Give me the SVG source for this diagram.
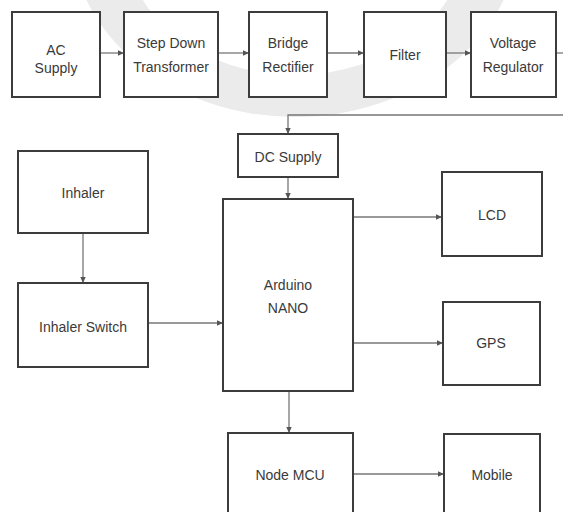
<svg xmlns="http://www.w3.org/2000/svg" width="563" height="512" viewBox="0 0 563 512">
  <defs>
    <marker id="arr" markerUnits="userSpaceOnUse" markerWidth="7" markerHeight="7" refX="6" refY="3.5" orient="auto">
      <path d="M0,0.8 L6,3.5 L0,6.2 Z" fill="#555"/>
    </marker>
    <style>
      .box { fill: #fff; stroke: #3c3c3c; stroke-width: 2; }
      .lbl { font-family: "Liberation Sans", Arial, sans-serif; font-size: 14px; fill: #3a3a3a; text-anchor: middle; }
      .con { fill: none; stroke: #777; stroke-width: 1.3; }
    </style>
  </defs>
  <rect width="563" height="512" fill="#fff"/>
  <path d="M70,-70 a225,187 0 1,0 450,0 a225,187 0 1,0 -450,0 Z M125,-60 a170,135 0 1,0 340,0 a170,135 0 1,0 -340,0 Z" fill="#ebebeb" fill-rule="evenodd"/>

  <g id="connectors">
    <line class="con" x1="100" y1="53" x2="124" y2="53" marker-end="url(#arr)"/>
    <line class="con" x1="218" y1="53" x2="249" y2="53" marker-end="url(#arr)"/>
    <line class="con" x1="327" y1="53" x2="364" y2="53" marker-end="url(#arr)"/>
    <line class="con" x1="446" y1="53" x2="471" y2="53" marker-end="url(#arr)"/>
    <line class="con" x1="556" y1="53" x2="563" y2="53"/>
    <polyline class="con" points="563,115 288,115 288,134" marker-end="url(#arr)"/>
    <line class="con" x1="288" y1="177" x2="288" y2="199" marker-end="url(#arr)"/>
    <line class="con" x1="83" y1="233" x2="83" y2="283" marker-end="url(#arr)"/>
    <line class="con" x1="148" y1="323" x2="223" y2="323" marker-end="url(#arr)"/>
    <line class="con" x1="353" y1="217" x2="442" y2="217" marker-end="url(#arr)"/>
    <line class="con" x1="353" y1="343" x2="443" y2="343" marker-end="url(#arr)"/>
    <line class="con" x1="289" y1="391" x2="289" y2="433" marker-end="url(#arr)"/>
    <line class="con" x1="353" y1="474" x2="444" y2="474" marker-end="url(#arr)"/>
  </g>

  <g id="ac-supply">
    <rect class="box" x="12" y="12" width="88" height="85"/>
    <text class="lbl" x="56" y="55">AC</text>
    <text class="lbl" x="56" y="73">Supply</text>
  </g>
  <g id="step-down">
    <rect class="box" x="124" y="12" width="94" height="85"/>
    <text class="lbl" x="171" y="48">Step Down</text>
    <text class="lbl" x="171" y="72">Transformer</text>
  </g>
  <g id="bridge">
    <rect class="box" x="249" y="12" width="78" height="85"/>
    <text class="lbl" x="288" y="48">Bridge</text>
    <text class="lbl" x="288" y="72">Rectifier</text>
  </g>
  <g id="filter">
    <rect class="box" x="364" y="12" width="82" height="85"/>
    <text class="lbl" x="405" y="60">Filter</text>
  </g>
  <g id="voltage-regulator">
    <rect class="box" x="471" y="12" width="85" height="85"/>
    <text class="lbl" x="513" y="48">Voltage</text>
    <text class="lbl" x="513" y="72">Regulator</text>
  </g>
  <g id="dc-supply">
    <rect class="box" x="238" y="134" width="100" height="43"/>
    <text class="lbl" x="288" y="162">DC Supply</text>
  </g>
  <g id="inhaler">
    <rect class="box" x="18" y="151" width="130" height="82"/>
    <text class="lbl" x="83" y="198">Inhaler</text>
  </g>
  <g id="inhaler-switch">
    <rect class="box" x="18" y="283" width="130" height="84"/>
    <text class="lbl" x="83" y="332">Inhaler Switch</text>
  </g>
  <g id="arduino">
    <rect class="box" x="223" y="199" width="130" height="192"/>
    <text class="lbl" x="288" y="290">Arduino</text>
    <text class="lbl" x="288" y="313">NANO</text>
  </g>
  <g id="lcd">
    <rect class="box" x="442" y="172" width="100" height="84"/>
    <text class="lbl" x="492" y="220">LCD</text>
  </g>
  <g id="gps">
    <rect class="box" x="443" y="302" width="97" height="83"/>
    <text class="lbl" x="491" y="348">GPS</text>
  </g>
  <g id="node-mcu">
    <rect class="box" x="228" y="433" width="125" height="90"/>
    <text class="lbl" x="290" y="480">Node MCU</text>
  </g>
  <g id="mobile">
    <rect class="box" x="444" y="434" width="96" height="90"/>
    <text class="lbl" x="492" y="480">Mobile</text>
  </g>
</svg>
